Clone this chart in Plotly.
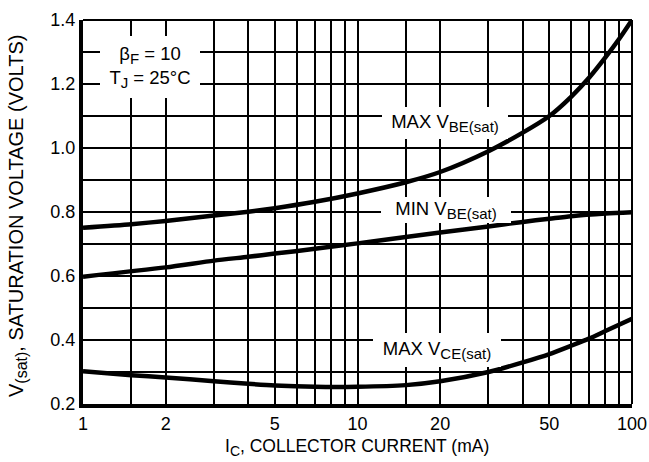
import plotly.graph_objects as go

# Collector current (mA) and saturation voltages (V) for each curve
ic_vbe_max = [1, 1.5, 2, 3, 4, 5, 7, 10, 15, 20, 30, 40, 50, 60, 70, 80, 90, 100]
vbe_max = [0.751, 0.762, 0.772, 0.789, 0.801, 0.812, 0.832, 0.858, 0.893, 0.925,
           0.990, 1.048, 1.100, 1.160, 1.221, 1.283, 1.342, 1.400]

ic_vbe_min = [1, 2, 3, 4, 5, 7, 10, 15, 20, 30, 40, 50, 60, 80, 100]
vbe_min = [0.598, 0.627, 0.648, 0.660, 0.670, 0.685, 0.702, 0.722, 0.736, 0.755,
           0.769, 0.779, 0.787, 0.795, 0.799]

ic_vce_max = [1, 1.5, 2, 3, 4, 5, 7, 10, 15, 20, 30, 40, 50, 60, 70, 80, 100]
vce_max = [0.302, 0.290, 0.283, 0.271, 0.263, 0.258, 0.254, 0.254, 0.259, 0.271,
           0.300, 0.330, 0.356, 0.382, 0.405, 0.428, 0.466]

# Grid positions along the current axis and their labels
x_grid = [1, 1.5, 2, 3, 4, 5, 6, 7, 8, 9, 10, 15, 20, 30, 40, 50, 60, 70, 80, 90, 100]
x_labels = {1: "1", 2: "2", 5: "5", 10: "10", 20: "20", 50: "50", 100: "100"}
y_ticks = [0.2, 0.4, 0.6, 0.8, 1.0, 1.2, 1.4]

FONT = "Liberation Sans, Arial, sans-serif"
SIZE = 18.5

fig = go.Figure()
for xs, ys in [(ic_vbe_max, vbe_max), (ic_vbe_min, vbe_min), (ic_vce_max, vce_max)]:
    fig.add_trace(go.Scatter(
        x=xs, y=ys, mode="lines",
        line=dict(color="black", width=4.5, shape="spline", smoothing=0.7),
        showlegend=False, hoverinfo="skip",
    ))

fig.update_layout(
    width=649, height=462,
    margin=dict(l=83, r=17, t=20, b=58),
    paper_bgcolor="white", plot_bgcolor="white",
    font=dict(family=FONT, size=SIZE, color="black"),
)

fig.update_xaxes(
    type="log", range=[0, 2], automargin=False,
    tickmode="array", tickvals=x_grid,
    ticktext=[x_labels.get(v, "") for v in x_grid],
    showgrid=True, gridcolor="black", gridwidth=2,
    showline=True, linecolor="black", linewidth=4, mirror=False,
    ticks="", zeroline=False,
    tickfont=dict(family=FONT, size=18),
)
fig.update_yaxes(
    range=[0.2, 1.4], automargin=False,
    tickmode="array", tickvals=y_ticks,
    ticktext=[f"{v:.1f}" for v in y_ticks],
    showgrid=True, gridcolor="black", gridwidth=2,
    minor=dict(dtick=0.1, showgrid=True, gridcolor="black", gridwidth=2),
    showline=True, linecolor="black", linewidth=4, mirror=False,
    ticks="", zeroline=False,
    tickfont=dict(family=FONT, size=18),
)

# Frame on top and right
fig.add_shape(type="line", xref="paper", yref="paper", x0=0, x1=1, y0=1, y1=1,
              line=dict(color="black", width=2), layer="above")
fig.add_shape(type="line", xref="paper", yref="paper", x0=1, x1=1, y0=0, y1=1,
              line=dict(color="black", width=2), layer="above")

PW, PH, L, T = 549, 384, 83, 20


def sub(s, px=15):
    return f"<sub><span style='font-size:{px}px'>{s}</span></sub>"


# Axis titles
fig.add_annotation(
    text=f"I{sub('C', 14)}, COLLECTOR CURRENT (mA)", xref="paper", yref="paper",
    x=(357 - L) / PW, y=-(447 - T - PH) / PH, xanchor="center", yanchor="middle",
    showarrow=False, font=dict(family=FONT, size=17.5),
)
fig.add_annotation(
    text=f"V{sub('(sat)', 16)}, SATURATION VOLTAGE (VOLTS)", xref="paper", yref="paper",
    x=(17 - L) / PW, y=1 - (216 - T) / PH, xanchor="center", yanchor="middle",
    textangle=-90, showarrow=False, font=dict(family=FONT, size=20),
)


def box(text, cx, cy, w, h):
    fig.add_annotation(
        text=text, xref="paper", yref="paper",
        x=(cx - L) / PW, y=1 - (cy - T) / PH,
        xanchor="center", yanchor="middle",
        width=w, height=h, align="center", valign="middle",
        showarrow=False, bgcolor="white", borderpad=0, borderwidth=0,
        font=dict(family=FONT, size=SIZE, color="black"),
    )


box(f"β{sub('F')} = 10<br>T{sub('J')} = 25°C", 150, 67, 100, 62)
box(f"MAX V{sub('BE(sat)')}", 445, 123, 126, 32)
box(f"MIN V{sub('BE(sat)')}", 446, 210, 130, 26)
box(f"MAX V{sub('CE(sat)')}", 437, 350, 128, 34)

fig.write_html("out.html")
